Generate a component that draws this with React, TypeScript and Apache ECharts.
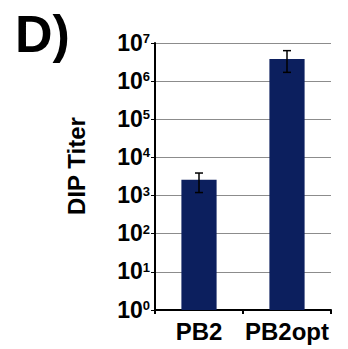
import React, { useEffect, useRef } from "react";
import * as echarts from "echarts";

const categories = ["PB2", "PB2opt"];
const titerValues = [2600, 3800000];
const errorLow = [1200, 1700000];
const errorHigh = [3900, 6300000];
const yTickExponents = [0, 1, 2, 3, 4, 5, 6, 7];

const FONT = "'Liberation Sans', Arial, sans-serif";

export default function App() {
  const ref = useRef<HTMLDivElement>(null);
  useEffect(() => {
    if (!ref.current) return;
    const chart = echarts.init(ref.current, undefined, { renderer: "svg" });
    const errData = categories.map((c, i) => [i, errorLow[i], errorHigh[i]]);
    chart.setOption({
      animation: false,
      backgroundColor: "#ffffff",
      grid: { left: 155, right: 17, top: 43, bottom: 39, containLabel: false },
      xAxis: {
        type: "category",
        data: categories,
        boundaryGap: true,
        axisLine: { show: true, lineStyle: { color: "#000", width: 2 } },
        axisTick: { show: true, length: 4, lineStyle: { color: "#000", width: 2 } },
        axisLabel: {
          interval: 0,
          color: "#000",
          fontFamily: FONT,
          fontWeight: "bold",
          fontSize: 24,
          margin: 9,
        },
        splitLine: { show: false },
      },
      yAxis: {
        type: "log",
        logBase: 10,
        min: Math.pow(10, yTickExponents[0]),
        max: Math.pow(10, yTickExponents[yTickExponents.length - 1]),
        axisLine: { show: true, lineStyle: { color: "#000", width: 2 } },
        axisTick: { show: true, length: 4, lineStyle: { color: "#000", width: 1 } },
        splitLine: { show: true, lineStyle: { color: "#8c8c8c", width: 1 } },
        axisLabel: {
          margin: 5,
          formatter: (v: number) => `{b|10}{s|${Math.round(Math.log10(v))}}`,
          rich: {
            b: {
              fontFamily: FONT,
              fontWeight: "bold",
              fontSize: 23,
              color: "#000",
              lineHeight: 22,
              verticalAlign: "bottom",
            },
            s: {
              fontFamily: FONT,
              fontWeight: "bold",
              fontSize: 13,
              color: "#000",
              lineHeight: 22,
              verticalAlign: "top",
            },
          },
        },
      },
      series: [
        {
          type: "bar",
          data: titerValues,
          barWidth: "40%",
          itemStyle: { color: "#0c1f5e" },
        },
        {
          type: "custom",
          data: errData,
          z: 10,
          renderItem: (params: any, api: any) => {
            const x = api.value(0);
            const lo = api.coord([x, api.value(1)]);
            const hi = api.coord([x, api.value(2)]);
            const cap = 4;
            const style = { stroke: "#000", lineWidth: 1.5 };
            return {
              type: "group",
              children: [
                { type: "line", shape: { x1: lo[0], y1: lo[1], x2: hi[0], y2: hi[1] }, style },
                { type: "line", shape: { x1: hi[0] - cap, y1: hi[1], x2: hi[0] + cap, y2: hi[1] }, style },
                { type: "line", shape: { x1: lo[0] - cap, y1: lo[1], x2: lo[0] + cap, y2: lo[1] }, style },
              ],
            };
          },
        },
      ],
      graphic: [
        {
          type: "text",
          left: 15,
          top: 8,
          style: {
            text: "D)",
            fontFamily: FONT,
            fontWeight: "bold",
            fontSize: 52,
            fill: "#000",
          },
        },
        {
          type: "text",
          x: 76,
          y: 166,
          rotation: Math.PI / 2,
          style: {
            text: "DIP Titer",
            fontFamily: FONT,
            fontWeight: "bold",
            fontSize: 24,
            fill: "#000",
            align: "center",
            verticalAlign: "middle",
          },
        },
      ],
    });
    return () => chart.dispose();
  }, []);
  return (
    <div
      ref={ref}
      style={{ position: "fixed", left: 0, top: 0, width: 348, height: 349 }}
    />
  );
}
